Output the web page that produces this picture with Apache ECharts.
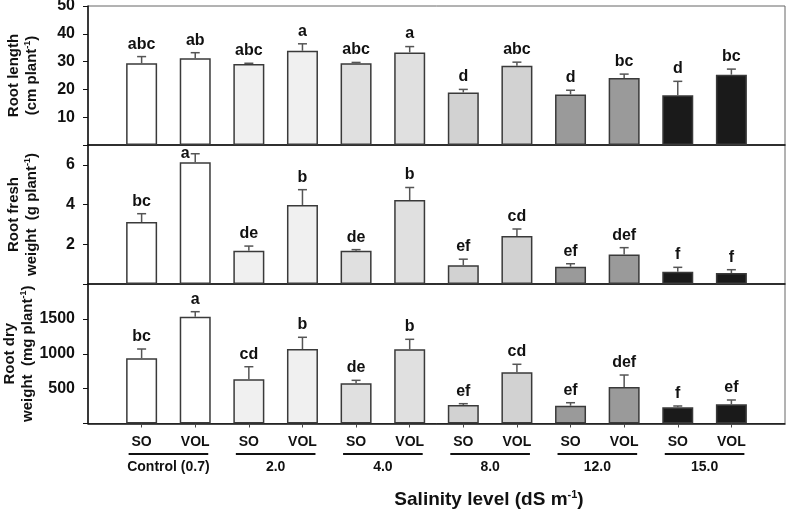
<!DOCTYPE html>
<html><head><meta charset="utf-8">
<script src="https://cdn.jsdelivr.net/npm/echarts@6/dist/echarts.min.js"></script>
<style>html,body{margin:0;padding:0;background:#fff}#c{width:787px;height:510px}</style>
</head><body><div id="c"></div>
<script>
// ---- data ----
const salinityLevels = ['Control (0.7)', '2.0', '4.0', '8.0', '12.0', '15.0'];
const treatments = ['SO', 'VOL'];

const rootLength        = [29.4, 31.2, 29.1, 33.9, 29.4, 33.3, 18.9, 28.5, 18.2, 24.1, 17.9, 25.3];
const rootLengthErr     = [2.4, 2.0, 0.3, 2.5, 0.3, 2.1, 1.1, 1.3, 1.5, 1.4, 5.0, 2.0];
const rootLengthLetters = ['abc', 'ab', 'abc', 'a', 'abc', 'a', 'd', 'abc', 'd', 'bc', 'd', 'bc'];

const rootFresh        = [3.12, 6.13, 1.68, 3.98, 1.68, 4.23, 0.95, 2.42, 0.87, 1.48, 0.62, 0.55];
const rootFreshErr     = [0.42, 0.43, 0.23, 0.77, 0.05, 0.63, 0.30, 0.35, 0.15, 0.35, 0.22, 0.17];
const rootFreshLetters = ['bc', 'a', 'de', 'b', 'de', 'b', 'ef', 'cd', 'ef', 'def', 'f', 'f'];

const rootDry        = [935, 1531, 634, 1068, 576, 1063, 265, 734, 255, 523, 232, 275];
const rootDryErr     = [133, 72, 180, 168, 43, 144, 19, 115, 43, 172, 19, 62];
const rootDryLetters = ['bc', 'a', 'cd', 'b', 'de', 'b', 'ef', 'cd', 'ef', 'def', 'f', 'ef'];

const rootLengthTicks = [0, 10, 20, 30, 40, 50];
const rootFreshTicks  = [0, 2, 4, 6];
const rootDryTicks    = [0, 500, 1000, 1500];

// ---- styles ----
const groupColors = ['#ffffff', '#f0f0f0', '#e0e0e0', '#d2d2d2', '#9a9a9a', '#1a1a1a'];
const FONT = 'Liberation Sans, Arial, sans-serif';
const TXT = '#111';

// category list: padding slot on each side
const categories = ['start'];
salinityLevels.forEach(g => treatments.forEach(t => categories.push(g + '|' + t)));
categories.push('end');

const panels = [
  {vals: rootLength, errs: rootLengthErr, letters: rootLengthLetters, max: 50, ticks: rootLengthTicks,
   name: ['Root length', '(cm plant', ')'], top: 6, height: 139, gap: 47},
  {vals: rootFresh, errs: rootFreshErr, letters: rootFreshLetters, max: 7, ticks: rootFreshTicks,
   name: ['Root fresh', 'weight  (g plant', ')'], top: 145, height: 139, gap: 47},
  {vals: rootDry, errs: rootDryErr, letters: rootDryLetters, max: 2000, ticks: rootDryTicks,
   name: ['Root dry', 'weight  (mg plant', ')'], top: 284, height: 139.5, gap: 51}
];

const nameRich = {
  n: {fontSize: 15, fontWeight: 'bold', fontFamily: FONT, color: TXT, lineHeight: 18},
  s: {fontSize: 9, fontWeight: 'bold', fontFamily: FONT, color: TXT, verticalAlign: 'top', lineHeight: 18, padding: [0, 0, 6, 0]}
};

const grid = [], xAxis = [], yAxis = [], series = [];
panels.forEach((p, k) => {
  const last = k === panels.length - 1;
  grid.push({left: 88, right: 2, top: p.top, height: p.height, show: true, borderColor: '#666', borderWidth: 1,
    containLabel: false, outerBoundsMode: 'none'});
  xAxis.push({
    type: 'category', gridIndex: k, data: categories, boundaryGap: false,
    axisLine: {show: true, lineStyle: {color: '#111', width: 1.5}},
    axisTick: {show: last, length: 4, lineStyle: {color: '#444'}, interval: (i) => i > 0 && i < categories.length - 1},
    axisLabel: {show: last, margin: 12, interval: 0, fontSize: 14, fontWeight: 'bold', fontFamily: FONT, color: TXT,
      formatter: v => (v.split('|')[1] || '')},
    splitLine: {show: false}
  });
  yAxis.push({
    type: 'value', gridIndex: k, min: 0, max: p.max,
    axisLine: {show: true, lineStyle: {color: '#111', width: 1.5}},
    axisTick: {show: true, length: 5, customValues: p.ticks, lineStyle: {color: '#111'}},
    axisLabel: {customValues: p.ticks.filter(v => v !== 0), margin: 13, fontSize: 16, fontWeight: 'bold', fontFamily: FONT, color: TXT,
      formatter: v => String(v)},
    splitLine: {show: false},
    name: '{n|' + p.name[0] + '}\n{n|' + p.name[1] + '}{s|-1}{n|' + p.name[2] + '}',
    nameLocation: 'middle', nameGap: p.gap, nameRotate: 90, nameMoveOverlap: false,
    nameTextStyle: {rich: nameRich, align: 'center'}
  });
  series.push({
    type: 'bar', xAxisIndex: k, yAxisIndex: k, barWidth: 31, silent: true,
    data: ['-'].concat(p.vals.map((v, i) => ({value: v, itemStyle: {color: groupColors[Math.floor(i / 2)]}}))).concat(['-']),
    itemStyle: {borderColor: '#3a3a3a', borderWidth: 1.5}
  });
  series.push({
    type: 'custom', xAxisIndex: k, yAxisIndex: k, silent: true, z: 5,
    data: p.vals.map((v, i) => [i + 1, v, p.errs[i]]),
    renderItem: (params, api) => {
      const idx = api.value(0), m = api.value(1), e = api.value(2);
      const top = api.coord([idx, m + e]);
      const base = api.coord([idx, m]);
      const cap = 4.5;
      const letter = p.letters[params.dataIndex];
      const gridTop = params.coordSys.y;
      const tooHigh = top[1] - 20 < gridTop;
      const lineStyle = {stroke: '#555', lineWidth: 1.5};
      return {type: 'group', children: [
        {type: 'line', shape: {x1: top[0], y1: base[1], x2: top[0], y2: top[1]}, style: lineStyle},
        {type: 'line', shape: {x1: top[0] - cap, y1: top[1], x2: top[0] + cap, y2: top[1]}, style: lineStyle},
        {type: 'text', x: tooHigh ? top[0] - cap - 1 : top[0], y: tooHigh ? top[1] : top[1] - 4.5,
          style: {text: letter, fontSize: 16, fontWeight: 'bold', fontFamily: FONT, fill: TXT,
            align: tooHigh ? 'right' : 'center', verticalAlign: tooHigh ? 'middle' : 'bottom'}}
      ]};
    }
  });
});

const chart = echarts.init(document.getElementById('c'), null, {renderer: 'canvas'});
chart.setOption({animation: false, backgroundColor: '#fff', grid, xAxis, yAxis, series});

// group underlines and labels, placed from the bottom x axis scale
const bottomX = panels.length - 1;
const px = i => chart.convertToPixel({xAxisIndex: bottomX}, i);
const graphics = [];
salinityLevels.forEach((g, gi) => {
  const x1 = px(2 * gi + 1), x2 = px(2 * gi + 2);
  const mid = (x1 + x2) / 2, half = (x2 - x1) / 2 + 13;
  graphics.push({type: 'line', shape: {x1: mid - half, y1: 454, x2: mid + half, y2: 454}, style: {stroke: '#111', lineWidth: 2}});
  graphics.push({type: 'text', x: mid, y: 467, style: {text: g, fontSize: 14, fontWeight: 'bold', fontFamily: FONT, fill: TXT, align: 'center', verticalAlign: 'middle'}});
});
graphics.push({type: 'text', x: 489, y: 500, style: {
  text: '{t|Salinity level (dS m}{s|-1}{t|)}', align: 'center', verticalAlign: 'middle',
  rich: {t: {fontSize: 19, fontWeight: 'bold', fontFamily: FONT, fill: TXT, lineHeight: 22},
         s: {fontSize: 11, fontWeight: 'bold', fontFamily: FONT, fill: TXT, verticalAlign: 'top', lineHeight: 22, padding: [0, 0, 8, 0]}}
}});
chart.setOption({graphic: graphics});
</script>
</body></html>
